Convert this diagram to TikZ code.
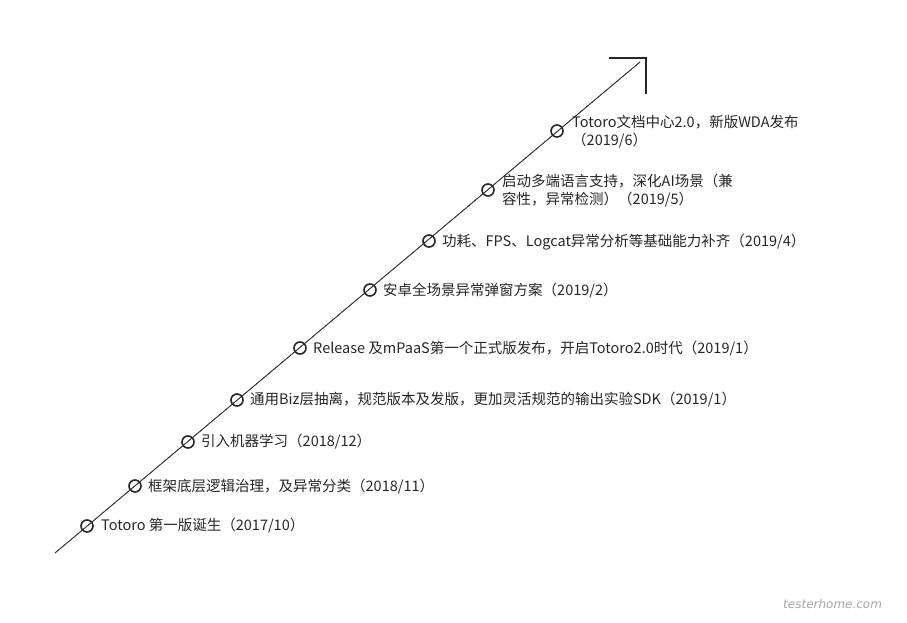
\documentclass[tikz,border=0pt]{standalone}
\usepackage{fontspec}
\setmainfont{Noto Sans CJK SC}
\newfontfamily\wmfont{DejaVu Sans}
\begin{document}
\begin{tikzpicture}[x=1pt,y=-1pt,
  evdot/.style={circle,draw=black!85,line width=1.6pt,minimum size=12pt,inner sep=0pt},
  evtext/.style={anchor=west,inner sep=0pt,font=\fontsize{14.5}{18}\selectfont,text=black!85,align=left},
  axisline/.style={draw=black!80,line width=0.7pt},
  cornerline/.style={draw=black!85,line width=1.1pt}]
\useasboundingbox (0,0) rectangle (907,623);
\coordinate (start) at (55,553);
\coordinate (tip) at (640,62);
\coordinate (hl) at (609,58);
\coordinate (corner) at (646,58);
\coordinate (vb) at (646,94);
\draw[axisline] (start) -- (tip);
\draw[cornerline] (hl) -- (corner) -- (vb);
\node[evdot] (d1) at (87,526) {};
\node[evdot] (d2) at (135,486) {};
\node[evdot] (d3) at (188,442) {};
\node[evdot] (d4) at (237,400) {};
\node[evdot] (d5) at (300,348) {};
\node[evdot] (d6) at (370,290) {};
\node[evdot] (d7) at (429,241) {};
\node[evdot] (d8) at (488,190) {};
\node[evdot] (d9) at (557,131) {};
\draw[axisline] (start) -- (tip);
\node[evtext] (t1) at (101,526) {Totoro 第一版诞生（2017/10）};
\node[evtext] (t2) at (148,487) {框架底层逻辑治理，及异常分类（2018/11）};
\node[evtext] (t3) at (201,442) {引入机器学习（2018/12）};
\node[evtext] (t4) at (250,400) {通用Biz层抽离，规范版本及发版，更加灵活规范的输出实验SDK（2019/1）};
\node[evtext] (t5) at (313,349) {Release 及mPaaS第一个正式版发布，开启Totoro2.0时代（2019/1）};
\node[evtext] (t6) at (383,291) {安卓全场景异常弹窗方案（2019/2）};
\node[evtext] (t7) at (442,242) {功耗、FPS、Logcat异常分析等基础能力补齐（2019/4）};
\node[evtext] (t8) at (502,190.5) {启动多端语言支持，深化AI场景（兼\\容性，异常检测）（2019/5）};
\node[evtext] (t9) at (572,132) {Totoro文档中心2.0，新版WDA发布\\（2019/6）};
\node[anchor=west,inner sep=0pt,text=black!35,font=\wmfont\itshape\fontsize{12}{14}\selectfont] (wm) at (783,604) {testerhome.com};
\end{tikzpicture}
\end{document}
